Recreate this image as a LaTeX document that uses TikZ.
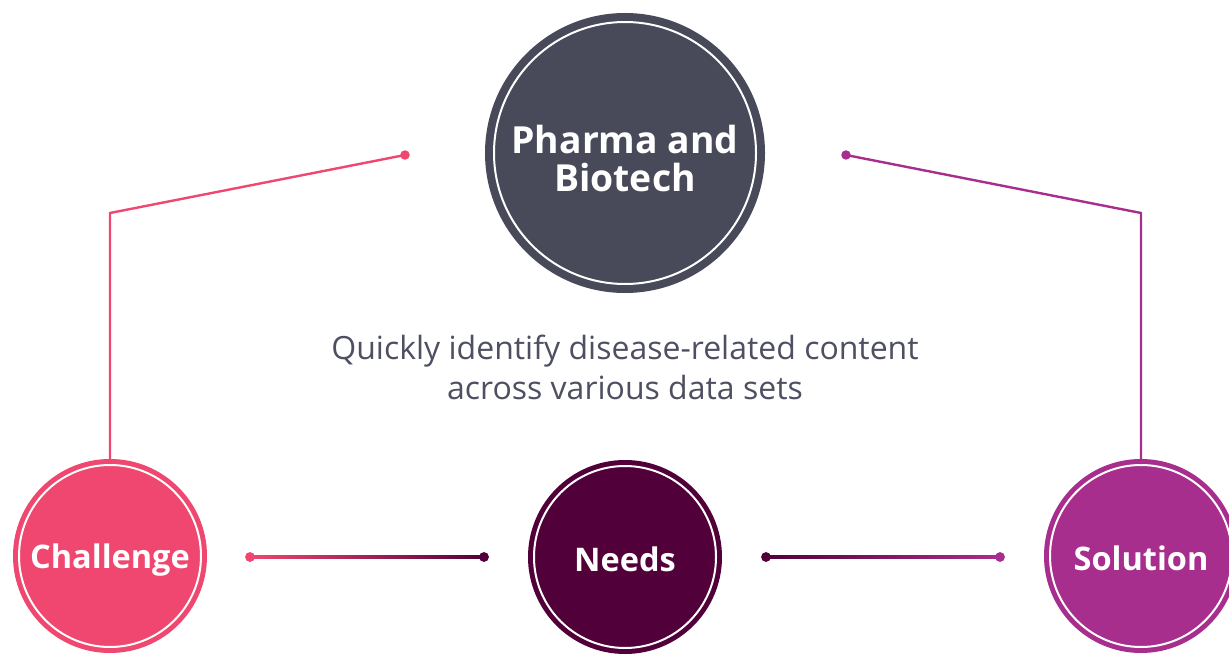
\documentclass[tikz,border=0pt]{standalone}
\usepackage{fontspec}
\setmainfont{Open Sans}
\definecolor{pharma}{HTML}{484A5A}
\definecolor{challenge}{HTML}{EF476F}
\definecolor{needs}{HTML}{52003A}
\definecolor{solution}{HTML}{A82E8E}
\definecolor{bodytext}{HTML}{4E5061}
\tikzset{
  bubble/.style 2 args={circle, inner sep=0pt, minimum size=#2, fill=#1, draw=white,
    line width=2pt, preaction={draw=#1, line width=12pt}},
  tag/.style={text=white, font=\fontsize{32.5}{38}\selectfont\bfseries, align=center},
  link/.style={line width=2.4pt},
  knob/.style={circle, inner sep=0pt, minimum size=9.5pt, fill=#1}
}
\begin{document}
\begin{tikzpicture}[x=1pt,y=-1pt]
  \useasboundingbox (0,0) rectangle (1229,655);
  \clip (0,0) rectangle (1229,655);

  % circles
  \node[bubble={pharma}{262pt}, preaction={draw=pharma, line width=18pt}] (pharma) at (625,153) {};
  \node[bubble={challenge}{182pt}] (challenge) at (110,556) {};
  \node[bubble={needs}{182pt}] (needs) at (625,557) {};
  \node[bubble={solution}{182pt}] (solution) at (1141,556) {};

  \node[tag, font=\fontsize{37.3}{38}\selectfont\bfseries] (pharmaText) at ([yshift=-6pt]pharma.center) {Pharma and\\Biotech};
  \node[tag] (challengeText) at ([yshift=-4.5pt]challenge.center) {Challenge};
  \node[tag] (needsText) at ([yshift=-2pt]needs.center) {Needs};
  \node[tag] (solutionText) at ([yshift=-2pt]solution.center) {Solution};

  \node[text=bodytext, font=\fontsize{32}{40}\selectfont, align=center] (goal) at (625,367)
    {Quickly identify disease-related content\\across various data sets};

  % end points of the links
  \node[knob=challenge] (cTop) at (405,155) {};
  \node[knob=solution] (sTop) at (846,155) {};
  \node[knob=challenge] (cRight) at (250,557) {};
  \node[knob=needs] (nLeft) at (484,557) {};
  \node[knob=needs] (nRight) at (766,557) {};
  \node[knob=solution] (sLeft) at (1000,557) {};
  \coordinate (cBend) at (110,213);
  \coordinate (sBend) at (1141,213);

  % links to the top circle
  \draw[link, challenge] (challenge.north) -- (cBend) -- (cTop.center);
  \draw[link, solution] (solution.north) -- (sBend) -- (sTop.center);

  % links along the bottom
  \shade[left color=challenge, right color=needs]
    ([yshift=-1.2pt]cRight.center) rectangle ([yshift=1.2pt]nLeft.center);
  \shade[left color=needs, right color=solution]
    ([yshift=-1.2pt]nRight.center) rectangle ([yshift=1.2pt]sLeft.center);
  \node[knob=challenge] at (cRight) {};
  \node[knob=needs] at (nLeft) {};
  \node[knob=needs] at (nRight) {};
  \node[knob=solution] at (sLeft) {};
\end{tikzpicture}
\end{document}
